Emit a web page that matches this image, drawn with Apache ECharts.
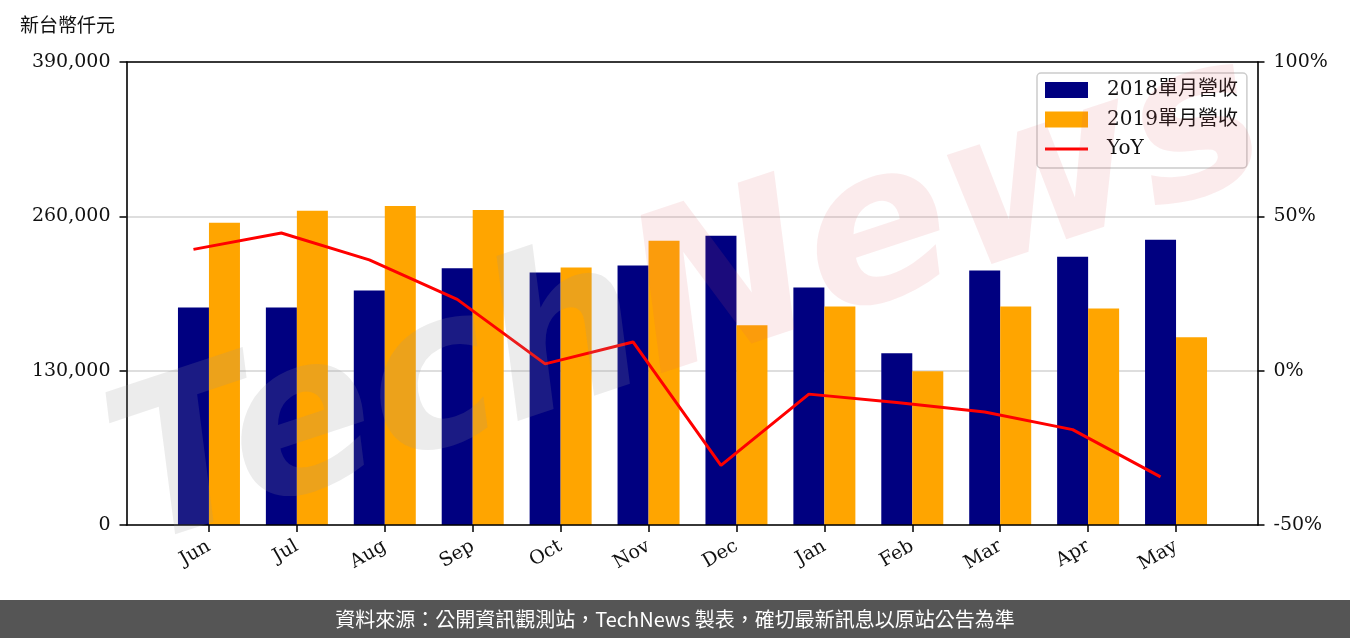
<!DOCTYPE html>
<html>
<head>
<meta charset="utf-8">
<script src="https://cdn.jsdelivr.net/npm/echarts@6/dist/echarts.min.js"></script>
<style>
html,body{margin:0;padding:0;background:#fff;}
#chart{width:1350px;height:638px;}
</style>
</head>
<body>
<div id="chart"></div>
<script>
const categories = ['Jun','Jul','Aug','Sep','Oct','Nov','Dec','Jan','Feb','Mar','Apr','May'];
const rev2018 = [183250,183250,197500,216200,212600,218500,243600,200000,144700,214300,226000,240300];
const rev2019 = [254500,264600,268800,265400,216800,239400,168200,184100,129600,184100,182400,158100];
const yoy = [39.3,44.6,35.9,23.1,2.2,9.3,-30.7,-7.6,-10.3,-13.4,-19.1,-34.4];
const leftTicks = {min:0, max:390000, interval:130000};
const rightTicks = {min:-50, max:100, interval:50};
const seriesNames = ['2018單月營收','2019單月營收','YoY'];
const unitLabel = '新台幣仟元';
const footerText = '資料來源：公開資訊觀測站，TechNews 製表，確切最新訊息以原站公告為準';

const SERIF = '"DejaVu Serif","Noto Sans CJK TC",serif';
const chart = echarts.init(document.getElementById('chart'), null, {renderer:'canvas'});
const gTop = 62, gBottom = 113;
const frameLine = {show:true, onZero:false, lineStyle:{color:'#000', width:1.6}};
const option = {
  animation:false,
  backgroundColor:'#fff',
  grid:[
    {left:126.5, right:92.5, top:gTop, bottom:gBottom},
    {left:165, right:130, top:gTop, bottom:gBottom},
    {left:149.5, right:145.5, top:gTop, bottom:gBottom}
  ],
  xAxis:[
    {gridIndex:0, type:'value', min:0, max:1, position:'bottom', axisLine:frameLine, axisTick:{show:false}, axisLabel:{show:false}, splitLine:{show:false}, z:5},
    {gridIndex:0, type:'value', min:0, max:1, position:'top', axisLine:frameLine, axisTick:{show:false}, axisLabel:{show:false}, splitLine:{show:false}, z:5},
    {gridIndex:1, type:'category', data:categories, boundaryGap:true,
     axisLine:{show:false},
     axisTick:{show:true, alignWithLabel:true, length:7, lineStyle:{color:'#000', width:1.5}},
     axisLabel:{rotate:30, margin:20, fontFamily:SERIF, fontSize:19, color:'#111'}},
    {gridIndex:2, type:'category', data:categories, show:false}
  ],
  yAxis:[
    {gridIndex:0, type:'value', position:'left', min:leftTicks.min, max:leftTicks.max, interval:leftTicks.interval,
     axisLine:frameLine, axisTick:{show:true, length:7, lineStyle:{color:'#000', width:1.5}},
     axisLabel:{margin:16, fontFamily:SERIF, fontSize:19, color:'#111',
       formatter:v=>v.toLocaleString('en-US')},
     splitLine:{show:true, lineStyle:{color:'#d3d3d3', width:1.5}}},
    {gridIndex:0, type:'value', position:'right', min:rightTicks.min, max:rightTicks.max, interval:rightTicks.interval,
     axisLine:frameLine, axisTick:{show:true, length:7, lineStyle:{color:'#000', width:1.5}},
     axisLabel:{margin:16, fontFamily:SERIF, fontSize:19, color:'#111', formatter:v=>v+'%'},
     splitLine:{show:false}, z:5},
    {gridIndex:1, type:'value', min:leftTicks.min, max:leftTicks.max, show:false, splitLine:{show:false}},
    {gridIndex:2, type:'value', min:rightTicks.min, max:rightTicks.max, show:false, splitLine:{show:false}}
  ],
  legend:{
    orient:'vertical', left:1037, top:73,
    padding:[7,9,9,8], itemWidth:43, itemHeight:16, itemGap:9.5,
    borderColor:'#cccccc', borderWidth:1.5, borderRadius:4,
    backgroundColor:'rgba(255,255,255,0.8)',
    textStyle:{fontFamily:SERIF, fontSize:20, color:'#111', lineHeight:20, padding:[0,0,0,14]},
    data:[
      {name:seriesNames[0], icon:'rect'},
      {name:seriesNames[1], icon:'rect'},
      {name:seriesNames[2], icon:'path://M0,0 L43,0 L43,3.2 L0,3.2 Z', itemStyle:{color:'#ff0000'}}
    ]
  },
  series:[
    {name:seriesNames[0], type:'bar', xAxisIndex:2, yAxisIndex:2, data:rev2018, barWidth:31, barGap:'0%',
     itemStyle:{color:'#000080'}},
    {name:seriesNames[1], type:'bar', xAxisIndex:2, yAxisIndex:2, data:rev2019, barWidth:31, barGap:'0%',
     itemStyle:{color:'#FFA500'}},
    {name:seriesNames[2], type:'line', xAxisIndex:3, yAxisIndex:3, data:yoy, symbol:'none',
     lineStyle:{color:'#ff0000', width:3}, itemStyle:{color:'#ff0000'}, z:5}
  ],
  graphic:[
    {type:'text', left:20, top:15, style:{text:unitLabel, font:'19px "Noto Sans CJK TC"', fill:'#111'}},
    {type:'text', x:690, y:305, rotation:0.32, z:50, silent:true,
     style:{text:'{t|Tech}{n|News}', align:'center', verticalAlign:'middle',
       rich:{t:{font:'italic bold 215px "DejaVu Sans"', fill:'rgba(150,150,150,0.18)'},
             n:{font:'italic bold 215px "DejaVu Sans"', fill:'rgba(220,90,100,0.12)'}}}},
    {type:'rect', shape:{x:0, y:600, width:1350, height:38}, style:{fill:'#555555'}},
    {type:'text', x:675, y:619, style:{text:footerText, font:'20px "Noto Sans CJK TC"', fill:'#ffffff', align:'center', verticalAlign:'middle'}}
  ]
};
chart.setOption(option);
</script>
</body>
</html>
